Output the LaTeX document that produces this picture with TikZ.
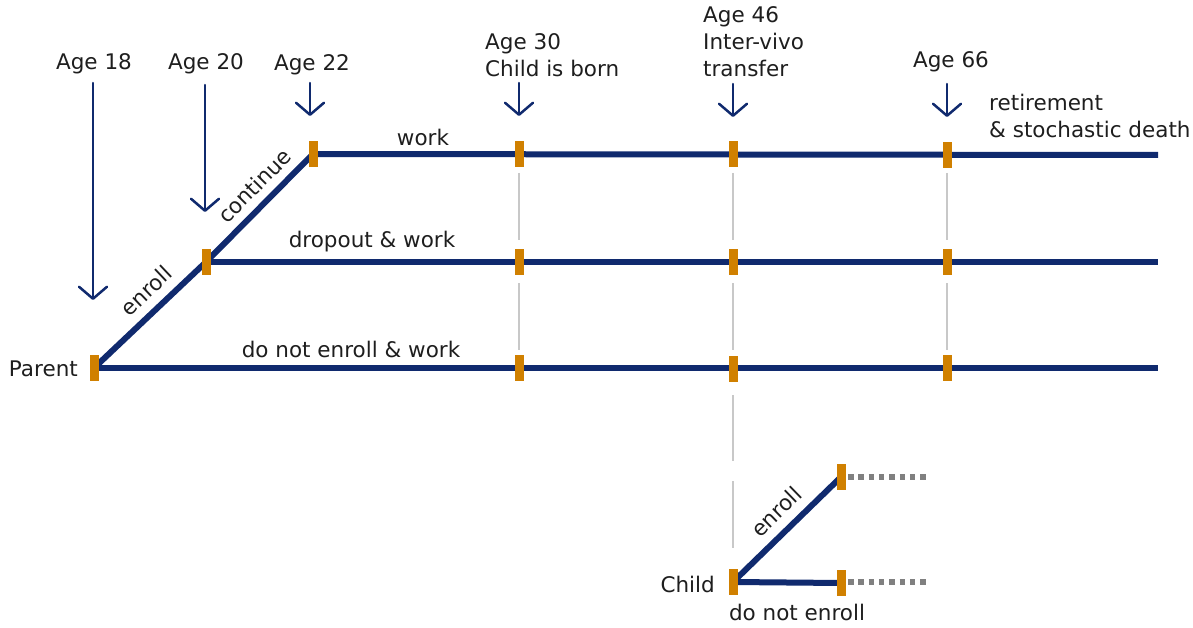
\documentclass[tikz,border=0pt]{standalone}
\usepackage{fontspec}
\setmainfont{DejaVu Sans}
\usetikzlibrary{arrows.meta}
\definecolor{navy}{RGB}{16,42,110}
\definecolor{tickorange}{RGB}{208,128,0}
\definecolor{guidegray}{RGB}{200,200,200}
\definecolor{txt}{RGB}{30,30,30}
\tikzset{
  path/.style={navy,line width=6pt},
  tick/.style={fill=tickorange,draw=none,rectangle,minimum width=9pt,minimum height=26pt,inner sep=0pt},
  guide/.style={guidegray,line width=1.6pt},
  agearrow/.style={navy,line width=2.5pt,line cap=round,-{Straight Barb[length=12pt,width=28pt,line width=2.5pt,round]}},
  lbl/.style={txt,font=\fontsize{21.5}{27}\selectfont,inner sep=0pt},
  cont/.style={gray,line width=6pt,dash pattern=on 5.5pt off 4.8pt},
}
\begin{document}
\begin{tikzpicture}[x=1pt,y=-1pt]
\useasboundingbox (0,0) rectangle (1193,628);
% positions on the three tracks
\coordinate (p18) at (94,368);
\coordinate (p20) at (206,262);
\coordinate (p22) at (313,154);
\coordinate (t30) at (519,154);
\coordinate (t46) at (733,154);
\coordinate (t66) at (947,155);
\coordinate (tend) at (1158,155);
\coordinate (d30) at (519,262);
\coordinate (d46) at (733,262);
\coordinate (d66) at (947,262);
\coordinate (dend) at (1158,262);
\coordinate (n30) at (519,368);
\coordinate (n46) at (733,369);
\coordinate (n66) at (947,368);
\coordinate (nend) at (1158,368);
\coordinate (c0) at (733,582);
\coordinate (ce) at (841,477);
\coordinate (cn) at (841,583);
\coordinate (cedots) at (928,477);
\coordinate (cndots) at (928,582);

% dashed guides between tracks
\foreach \x in {519,733,947} {
  \draw[guide] (\x,173) -- (\x,240);
  \draw[guide] (\x,283) -- (\x,350);
}
\draw[guide] (733,395) -- (733,461);
\draw[guide] (733,481) -- (733,548);

% parent tracks
\draw[path] (p18) -- node[lbl,sloped,above=9pt,pos=0.59]{enroll} (p20);
\draw[path] (p20) -- node[lbl,sloped,above=8pt,pos=0.58]{continue} (p22);
\draw[path] (p22) -- (tend);
\draw[path] (p20) -- (dend);
\draw[path] (p18) -- (nend);

% child tracks
\draw[cont] (ce) ++(7,0) -- (cedots);
\draw[cont] (cn) ++(7,-1) -- (cndots);
\draw[path] (c0) -- node[lbl,sloped,above=9pt,pos=0.53]{enroll} (ce);
\draw[path] (c0) -- (cn);

% ticks
\foreach \c in {p18,p20,p22,t30,t46,t66,d30,d46,d66,n30,n46,n66,c0,ce,cn}
  \node[tick] (k\c) at (\c) {};

% age arrows
\node[lbl] (a18) at (94,64) {Age 18};
\node[lbl] (a20) at (206,64) {Age 20};
\node[lbl] (a22) at (312,65) {Age 22};
\node[lbl,align=left,anchor=west] (a30) at (485,55) {Age 30\\Child is born};
\node[lbl,align=left,anchor=west] (a46) at (703,42) {Age 46\\Inter-vivo\\transfer};
\node[lbl] (a66) at (951,62) {Age 66};
\coordinate (h18) at (93,300);
\coordinate (h20) at (205,212);
\coordinate (h22) at (310,116);
\coordinate (h30) at (519,116);
\coordinate (h46) at (733,117);
\coordinate (h66) at (947,117);
\draw[agearrow] (93,83) -- (h18);
\draw[agearrow] (205,85) -- (h20);
\draw[agearrow] (310,83) -- (h22);
\draw[agearrow] (519,83) -- (h30);
\draw[agearrow] (733,84) -- (h46);
\draw[agearrow] (947,84) -- (h66);

% track labels
\node[lbl,align=left,anchor=west] (ret) at (989,116) {retirement\\\& stochastic death};
\node[lbl] (lwork) at (423,137) {work};
\node[lbl] (ldrop) at (372,242) {dropout \& work};
\node[lbl] (lnot) at (351,349) {do not enroll \& work};
\node[lbl,anchor=east] (par) at (78,369) {Parent};
\node[lbl,anchor=east] (chd) at (715,584) {Child};
\node[lbl] (lcn) at (797,612) {do not enroll};
\end{tikzpicture}
\end{document}
